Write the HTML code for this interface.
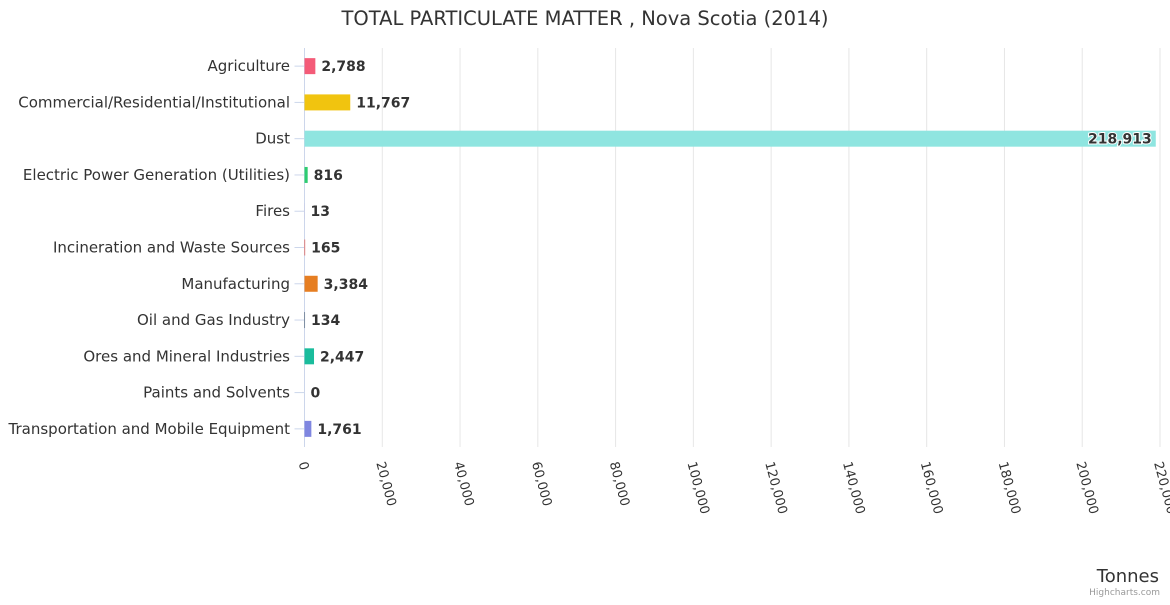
<!DOCTYPE html>
<html><head><meta charset="utf-8"><style>
body{margin:0;background:#fff;font-family:"Liberation Sans","DejaVu Sans",sans-serif}
svg text{font-family:"DejaVu Sans","Liberation Sans",sans-serif}
</style></head><body>
<svg id="c" width="1170" height="600" xmlns="http://www.w3.org/2000/svg">
<text x="585" y="25" text-anchor="middle" font-size="19.5" fill="#333">TOTAL PARTICULATE MATTER , Nova Scotia (2014)</text>
<g id="grid"></g><g id="bars"></g><g id="ylab"></g><g id="xlab"></g>
<text x="1159" y="582" text-anchor="end" font-size="18" fill="#333">Tonnes</text>
<text x="1160" y="595" text-anchor="end" font-size="9" fill="#999">Highcharts.com</text>
</svg>
<script>
const categories=["Agriculture","Commercial/Residential/Institutional","Dust","Electric Power Generation (Utilities)","Fires","Incineration and Waste Sources","Manufacturing","Oil and Gas Industry","Ores and Mineral Industries","Paints and Solvents","Transportation and Mobile Equipment"];
const values=[2788,11767,218913,816,13,165,3384,134,2447,0,1761];
const colors=["#f45b78","#f1c40f","#8fe5e0","#2ecc71","#9b59b6","#e74c3c","#e67e22","#34495e","#1abc9c","#f39c12","#7f86e0"];
const ticks=[0,20000,40000,60000,80000,100000,120000,140000,160000,180000,200000,220000];
const NS="http://www.w3.org/2000/svg";
const x0=304.5,x1=1160,yTop=48,yBot=447,maxV=220000;
const xs=v=>x0+v*(x1-x0)/maxV;
const rowH=(yBot-yTop)/categories.length;
const ys=i=>yTop+rowH*(i+0.5);
function mk(t,a,p){const e=document.createElementNS(NS,t);for(const k in a)e.setAttribute(k,a[k]);p.appendChild(e);return e;}
const g=document.getElementById('grid'),b=document.getElementById('bars'),yl=document.getElementById('ylab'),xl=document.getElementById('xlab');
ticks.forEach((t,i)=>{
 const l=mk('line',{x1:xs(t),x2:xs(t),y1:yTop,y2:yBot,stroke:i==0?'#ccd6eb':'#e6e6e6','stroke-width':1},g);
 
 
 const tx=mk('text',{x:xs(t)-6,y:yBot+16,'font-size':13,fill:'#333',transform:`rotate(75 ${xs(t)-6} ${yBot+16})`},xl);
 tx.textContent=t.toLocaleString('en-US');
 
 
});
categories.forEach((c,i)=>{
 const y=ys(i);
 const tk=mk('line',{x1:x0-10,x2:x0,y1:y,y2:y,stroke:'#ccd6eb'},g);
 
 
 const t=mk('text',{x:290,y:y+5,'text-anchor':'end','font-size':15,fill:'#333'},yl);
 t.textContent=c;
 
 
 const w=Math.max(xs(values[i])-x0,0);
 const r=mk('rect',{x:x0,y:y-8,width:w,height:16,fill:colors[i]},b);
 
 
 const inside=w>400;
 const lv=mk('text',{x:inside?x0+w-4:x0+w+6,y:y+5,'text-anchor':inside?'end':'start','font-size':14,'font-weight':'bold',fill:'#333',stroke:'#fff','stroke-width':inside?2:0,'paint-order':'stroke'},b);
 lv.textContent=values[i].toLocaleString('en-US');
 
 
});
</script>
</body></html>
